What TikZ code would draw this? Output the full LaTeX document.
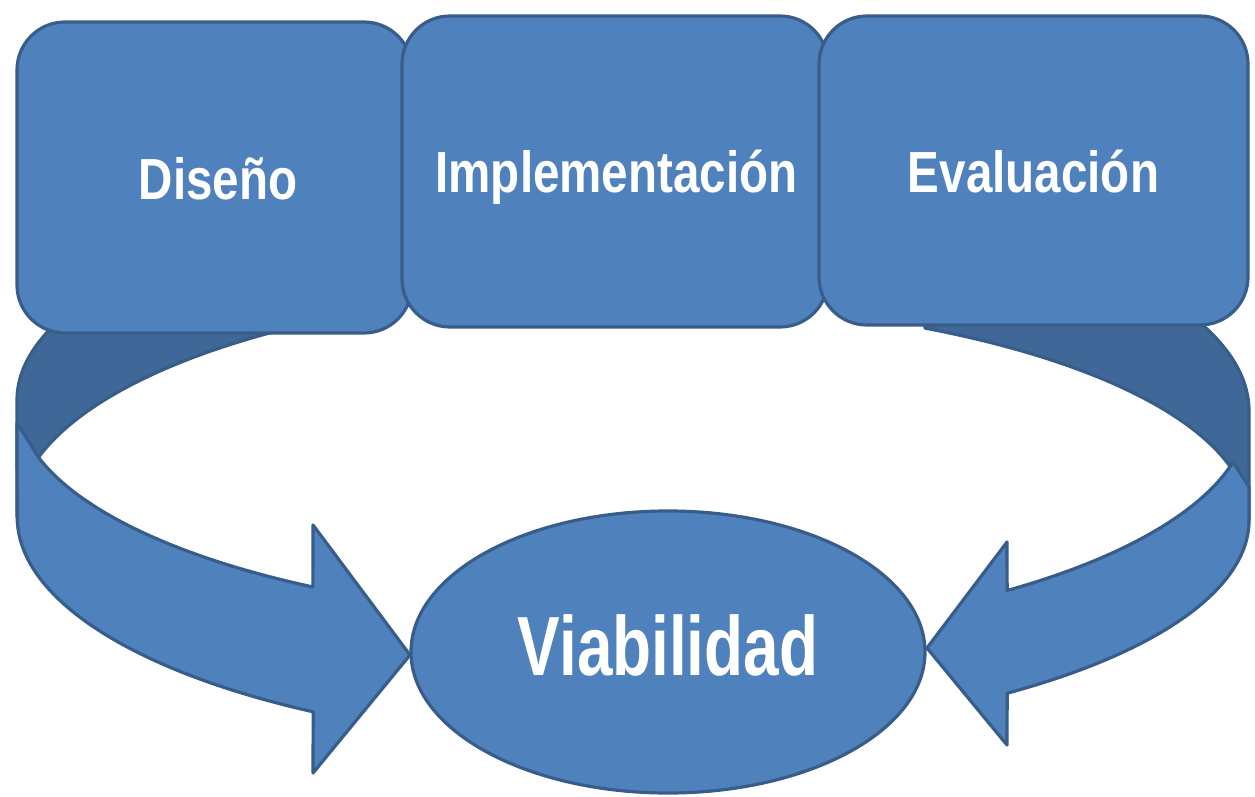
\documentclass[tikz,border=0pt]{standalone}
\usepackage{fontspec}
\usetikzlibrary{shapes.geometric}
\newfontfamily\boxfont[FakeStretch=0.82]{Liberation Sans}
\newfontfamily\bigfont[FakeStretch=0.76]{Liberation Sans}
\definecolor{fillblue}{RGB}{79,129,189}
\definecolor{edgeblue}{RGB}{56,93,138}
\definecolor{backblue}{RGB}{63,103,151}
\begin{document}
\begin{tikzpicture}[x=1pt,y=1pt,
  shapeline/.style={draw=edgeblue,line width=3.2pt,line join=round},
  backpart/.style={shapeline,fill=backblue},
  frontpart/.style={shapeline,fill=fillblue},
  stagebox/.style={shapeline,fill=fillblue,rectangle,rounded corners=48pt,inner sep=0pt,
    text=white,font=\boxfont\bfseries\fontsize{58}{60}\selectfont,text depth=0pt},
  goalnode/.style={shapeline,fill=fillblue,ellipse,inner sep=0pt,
    text=white,font=\bigfont\bfseries\fontsize{84}{88}\selectfont}]
\useasboundingbox (0,0) rectangle (1255,796);
% left circular arrow: back (inner) face
\path[backpart] (17,396) arc[start angle=180,end angle=111.7,x radius=616,y radius=219]
  -- (405.3,490.8) arc[start angle=111.7,end angle=180,x radius=616,y radius=228] -- cycle;
% right circular arrow: back (inner) face
\path[backpart] (1249,385) arc[start angle=0,end angle=61.7,x radius=616,y radius=226]
  -- (925,467.9) arc[start angle=61.7,end angle=0,x radius=616,y radius=218] -- cycle;
% left circular arrow: front face with head
\path[frontpart] (17,373) -- (39,338)
  arc[start angle=195.4,end angle=238.7,x radius=616,y radius=219]
  -- (313,271) -- (410,141) -- (313,23) -- (313.2,84.2)
  arc[start angle=238.7,end angle=180,x radius=616,y radius=228] -- cycle;
% right circular arrow: front face with head
\path[frontpart] (1249,309) -- (1233,333.8)
  arc[start angle=346.9,end angle=307.4,x radius=616,y radius=226]
  -- (1007,254) -- (927,148) -- (1007,51) -- (1007.2,102.8)
  arc[start angle=307.4,end angle=360,x radius=616,y radius=218] -- cycle;
% stage boxes
\node[stagebox,minimum width=395pt,minimum height=311pt,text height=45pt] (diseno) at (214.5,618.5) {\hspace*{7pt}Diseño};
\node[stagebox,minimum width=426pt,minimum height=311pt,text height=43pt] (implementacion) at (615,624.5) {\hspace*{3pt}Implementación};
\node[stagebox,minimum width=429pt,minimum height=309pt,text height=45pt] (evaluacion) at (1033.5,625.5) {Evaluación};
% goal ellipse
\node[goalnode,minimum width=514pt,minimum height=282pt,text height=60pt,text depth=14pt] (viabilidad) at (668,144) {Viabilidad};
\end{tikzpicture}
\end{document}
